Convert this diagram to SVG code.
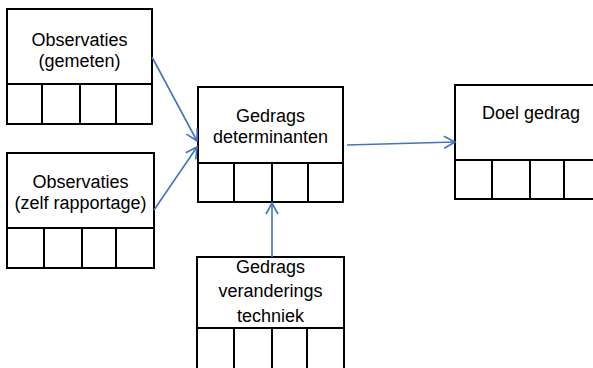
<svg xmlns="http://www.w3.org/2000/svg" width="593" height="368" viewBox="0 0 593 368">
<style>
.box{fill:#fff;stroke:#000;stroke-width:2}
.ln{stroke:#000;stroke-width:2;fill:none}
.t{font-family:"Liberation Sans",Arial,sans-serif;font-size:18px;fill:#000;text-anchor:middle}
.c{stroke:#4472C4;stroke-width:1.6;fill:none}
</style>
<defs>
<marker id="ah" markerUnits="userSpaceOnUse" markerWidth="14" markerHeight="16" refX="12" refY="7" orient="auto" viewBox="0 0 14 14">
<path d="M1,1 L12,7 L1,13" fill="none" stroke="#4472C4" stroke-width="1.6"/>
</marker>
</defs>
<rect width="593" height="368" fill="#fff"/>
<g id="obs-gemeten">
<rect class="box" x="7" y="9" width="145" height="115"/>
<path class="ln" d="M7,84 H152 M42,84 V124 M80,84 V124 M116,84 V124"/>
<text class="t" x="79.5" y="46">Observaties</text>
<text class="t" x="79.5" y="67">(gemeten)</text>
</g>
<g id="obs-zelf">
<rect class="box" x="7" y="153" width="147" height="115"/>
<path class="ln" d="M7,228 H154 M44,228 V268 M82,228 V268 M116,228 V268"/>
<text class="t" x="80.5" y="188">Observaties</text>
<text class="t" x="80.5" y="209">(zelf rapportage)</text>
</g>
<g id="determinanten">
<rect class="box" x="198" y="87" width="145" height="115"/>
<path class="ln" d="M198,163 H343 M234,163 V202 M272,163 V202 M308,163 V202"/>
<text class="t" x="270.5" y="122">Gedrags</text>
<text class="t" x="270.5" y="143">determinanten</text>
</g>
<g id="techniek">
<rect class="box" x="197" y="257" width="147" height="120"/>
<path class="ln" d="M197,328 H344 M234,328 V377 M272,328 V377 M307,328 V377"/>
<text class="t" x="270.5" y="273">Gedrags</text>
<text class="t" x="270.5" y="297">veranderings</text>
<text class="t" x="270.5" y="322">techniek</text>
</g>
<g id="doel">
<rect class="box" x="455" y="85" width="146" height="114"/>
<path class="ln" d="M455,160 H601 M492,160 V199 M530,160 V199 M564,160 V199"/>
<text class="t" x="531" y="119">Doel gedrag</text>
</g>
<g id="connectors">
<line class="c" x1="152" y1="57" x2="197" y2="141" marker-end="url(#ah)"/>
<line class="c" x1="154" y1="210" x2="197" y2="147" marker-end="url(#ah)"/>
<line class="c" x1="347" y1="145" x2="455" y2="142" marker-end="url(#ah)"/>
<line class="c" x1="272" y1="257" x2="272" y2="203" marker-end="url(#ah)"/>
</g>
</svg>
